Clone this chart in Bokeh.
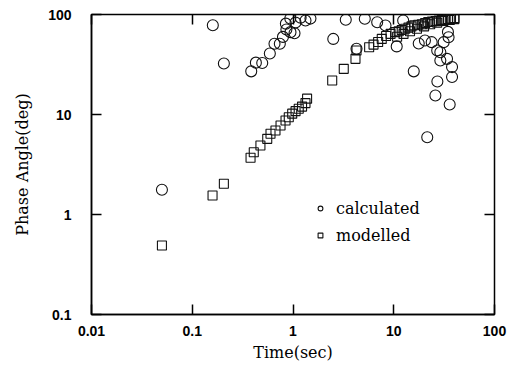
from bokeh.plotting import figure
from bokeh.models import LogAxis, Legend, LegendItem, FixedTicker, CustomJSTickFormatter
from bokeh.embed import file_html
from bokeh.resources import INLINE

calc_time = [0.05, 0.16, 0.206, 0.385, 0.428, 0.495, 0.589, 0.655, 0.74, 0.795, 0.86, 0.944, 1.035,
             0.85, 0.94, 1.06, 1.19, 1.33, 1.49, 2.51, 3.34, 4.27, 5.16, 6.85, 8.28, 10.7, 12.4,
             15.8, 17.7, 20.4, 21.5, 23.8, 25.9, 27.0, 27.1, 29.0, 29.0, 31.3, 33.8, 35.0, 35.9,
             37.9, 37.9, 34.5]
calc_phase = [1.77, 78, 32.4, 27, 33, 32.7, 40.7, 51, 51, 59.7, 70.8, 66.6, 65,
              81, 91, 83, 93, 87, 91, 57, 88.5, 45.4, 90.6, 83.8, 77.6, 48, 87,
              27, 51.3, 55, 5.93, 52.9, 15.5, 43.7, 21.4, 42, 34.7, 52.9, 36, 59.2, 12.6,
              29.8, 23.7, 67]

mod_time = [0.05, 0.159, 0.206, 0.379, 0.408, 0.475, 0.555, 0.598, 0.67, 0.752, 0.843, 0.908,
            0.982, 1.06, 1.14, 1.23, 1.33, 1.38, 2.45, 3.19, 4.17, 4.27, 5.7, 6.3, 7.0, 7.6,
            8.4, 9.3, 10.4, 11.2, 12.0, 13.0, 14.0, 15.0, 16.0, 17.5, 19.0, 20.5, 22.0, 24.0,
            26.0, 28.0, 30.0, 32.0, 34.5, 37.0, 40.0, 10.8, 12.5, 14.5, 17.0, 20.0, 23.0, 27.0,
            31.0, 36.0, 40.0]
mod_phase = [0.49, 1.55, 2.03, 3.69, 4.2, 4.9, 5.71, 6.41, 6.92, 7.76, 8.71, 9.4,
             10.2, 10.8, 11.4, 12.0, 13.0, 14.4, 21.9, 28.6, 36, 43.7, 47, 50, 53, 57,
             61, 64, 66.6, 68, 70, 72, 74, 76, 78, 79, 80, 82, 84, 85,
             86, 87, 88, 89, 90, 91, 92, 60, 64, 68, 72, 76, 80, 83,
             86, 88, 90]

x_ticks = [0.01, 0.1, 1, 10, 100]
y_ticks = [0.1, 1, 10, 100]

p = figure(width=511, height=372, x_axis_type="log", y_axis_type="log",
           x_range=(0.01, 100), y_range=(0.1, 100),
           output_backend="svg", toolbar_location=None,
           min_border_left=91, min_border_top=14, min_border_right=17, min_border_bottom=58)
p.grid.visible = False
p.outline_line_color = "black"
p.outline_line_width = 1.5
p.background_fill_color = "white"
p.border_fill_color = "white"

fmt = CustomJSTickFormatter(code="return String(tick);")

for ax, ticks in ((p.xaxis[0], x_ticks), (p.yaxis[0], y_ticks)):
    ax.ticker = FixedTicker(ticks=ticks, minor_ticks=[])
    ax.formatter = fmt
    ax.major_tick_in = 10
    ax.major_tick_out = 0
    ax.minor_tick_in = 0
    ax.minor_tick_out = 0
    ax.axis_line_color = "black"
    ax.axis_line_width = 1.5
    ax.major_tick_line_color = "black"
    ax.major_tick_line_width = 1.5
    ax.major_label_text_font = "Liberation Sans"
    ax.major_label_text_font_style = "bold"
    ax.major_label_text_font_size = "14px"
    ax.major_label_text_color = "black"
    ax.axis_label_text_font = "DejaVu Serif"
    ax.axis_label_text_font_style = "normal"
    ax.axis_label_text_font_size = "16px"
    ax.axis_label_text_color = "black"

p.xaxis[0].axis_label = "Time(sec)"
p.yaxis[0].axis_label = "Phase Angle(deg)"
p.xaxis[0].major_label_standoff = 11
p.yaxis[0].major_label_standoff = 20
p.xaxis[0].axis_label_standoff = 4
p.yaxis[0].axis_label_standoff = 13

top = LogAxis(ticker=FixedTicker(ticks=x_ticks, minor_ticks=[]), major_tick_in=10, major_tick_out=0,
              minor_tick_in=0, minor_tick_out=0, major_label_text_font_size="1px",
              major_label_text_alpha=0, major_label_standoff=0, axis_line_color=None,
              major_tick_line_width=1.5)
right = LogAxis(ticker=FixedTicker(ticks=y_ticks, minor_ticks=[]), major_tick_in=10, major_tick_out=0,
                minor_tick_in=0, minor_tick_out=0, major_label_text_font_size="1px",
                major_label_text_alpha=0, major_label_standoff=0, axis_line_color=None,
                major_tick_line_width=1.5)
p.add_layout(top, "above")
p.add_layout(right, "right")

rc = p.scatter(calc_time, calc_phase, marker="circle", size=11, fill_color=None,
               line_color="#111111", line_width=1.1)
rm = p.scatter(mod_time, mod_phase, marker="square", size=9, fill_color=None,
               line_color="#111111", line_width=1.1)

legend = Legend(items=[LegendItem(label="calculated", renderers=[rc]),
                       LegendItem(label="modelled", renderers=[rm])],
                location=(223, 69), orientation="vertical",
                background_fill_alpha=0, border_line_color=None,
                padding=0, margin=0, spacing=7, glyph_width=12, glyph_height=12,
                label_standoff=10, label_height=20,
                label_text_font="DejaVu Serif", label_text_font_size="16px",
                label_text_color="black")
p.add_layout(legend, "center")

open("out.html", "w").write(file_html(p, INLINE))
